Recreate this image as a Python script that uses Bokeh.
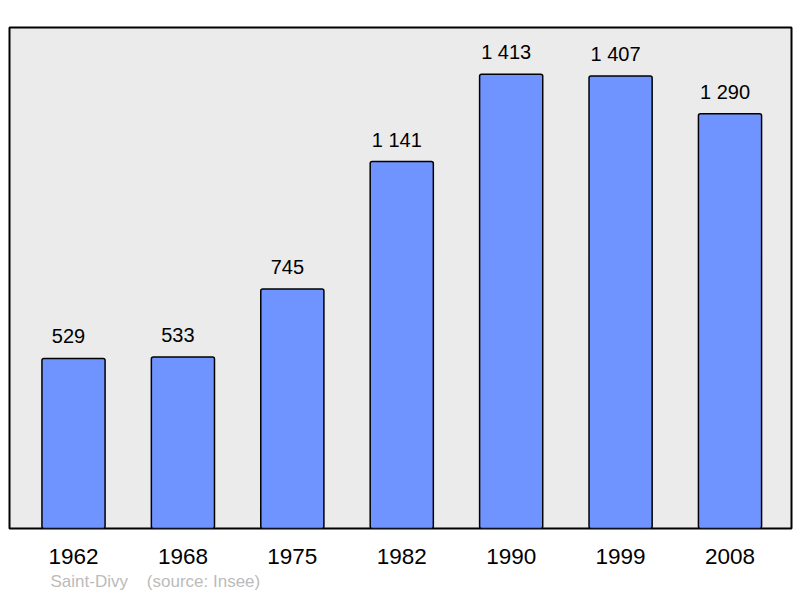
from bokeh.plotting import figure
from bokeh.models import Range1d, FixedTicker, Title, ColumnDataSource
from bokeh.core.properties import value
from bokeh.embed import file_html
from bokeh.resources import INLINE

years = ["1962", "1968", "1975", "1982", "1990", "1999", "2008"]
population = [529, 533, 745, 1141, 1413, 1407, 1290]
labels = ["529", "533", "745", "1\u00a0141", "1\u00a0413", "1\u00a0407", "1\u00a0290"]
source_note = "Saint-Divy\u00a0\u00a0\u00a0\u00a0(source: Insee)"

xs = list(range(len(years)))
src = ColumnDataSource(dict(x=xs, pop=population, lab=labels))

FONT = "Liberation Sans"

p = figure(width=800, height=598, output_backend="svg", toolbar_location=None,
           x_range=Range1d(-0.585, 6.562), y_range=Range1d(0, 1558),
           min_border_left=9, min_border_right=9, min_border_top=27, min_border_bottom=70)
p.background_fill_color = "#ebebeb"
p.border_fill_color = "white"
p.outline_line_color = "black"
p.outline_line_width = 2
p.grid.visible = False
p.yaxis.visible = False

p.vbar(x="x", top="pop", width=0.577, bottom=0, source=src,
       fill_color="#7094ff", line_color="black", line_width=1.5, border_radius=2)
p.text(x="x", y="pop", text="lab", source=src, text_align="center",
       text_baseline="alphabetic", x_offset=-5, y_offset=-22, text_font_size="20px",
       text_font=value(FONT), text_color="black")

ax = p.xaxis[0]
ax.ticker = FixedTicker(ticks=xs)
ax.major_label_overrides = {i: y for i, y in zip(xs, years)}
ax.axis_line_color = None
ax.major_tick_line_color = None
ax.minor_tick_line_color = None
ax.major_tick_in = 0
ax.major_tick_out = 0
ax.major_label_standoff = 20
ax.major_label_text_font_size = "22.5px"
ax.major_label_text_font = FONT
ax.major_label_text_color = "black"

note = Title(text=source_note, align="left", offset=41, standoff=7,
             text_font_size="17px", text_font=FONT, text_color="#bbbbbb",
             text_font_style="normal")
p.add_layout(note, "below")

open("out.html", "w").write(file_html(p, INLINE))
